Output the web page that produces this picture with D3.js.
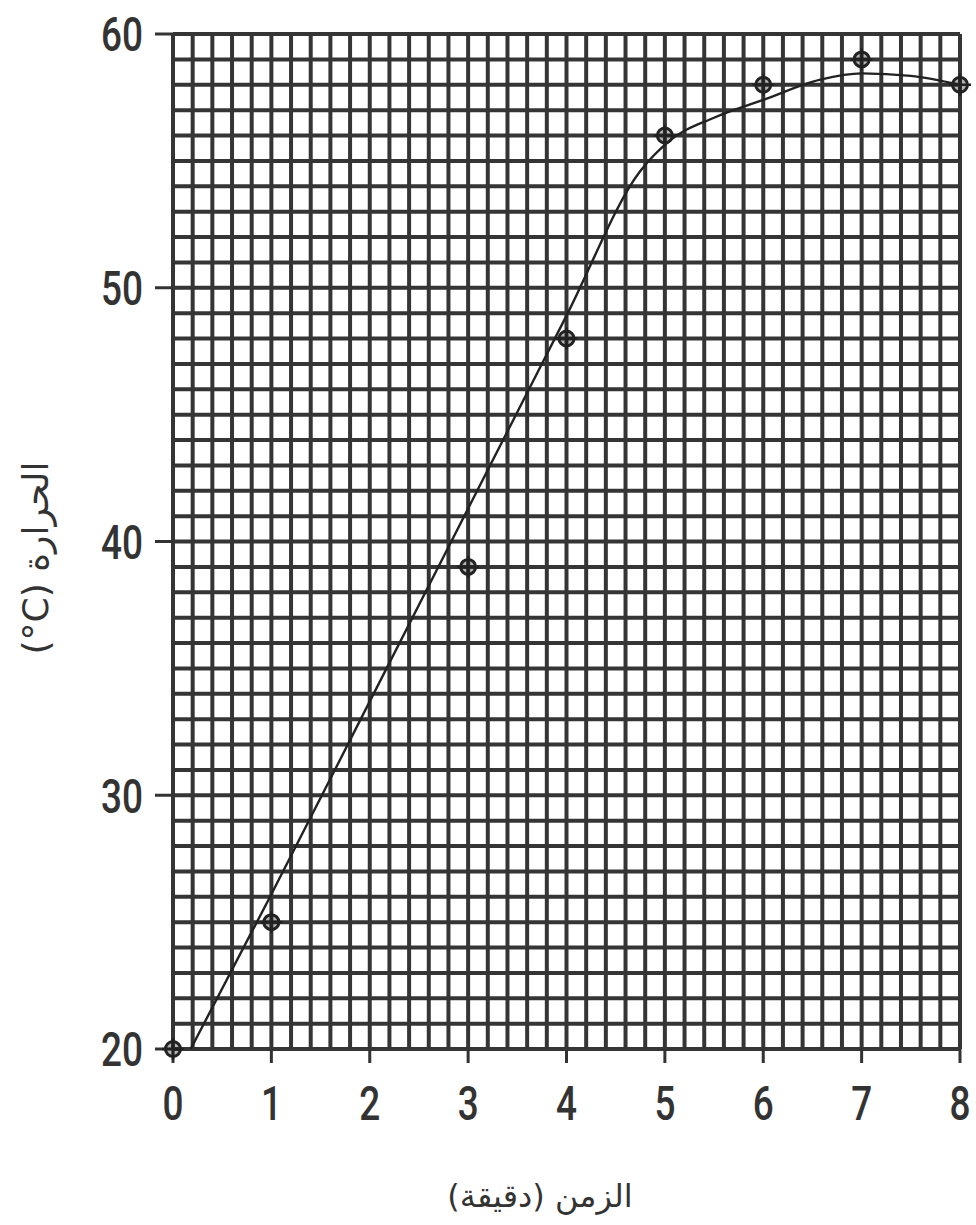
<!DOCTYPE html>
<html><head><meta charset="utf-8">
<script src="https://cdn.jsdelivr.net/npm/d3@7"></script>
<style>body{margin:0;background:#fff}</style>
</head><body>
<svg id="c" width="976" height="1225"></svg>
<script>
const timeMin = [0, 1, 3, 4, 5, 6, 7, 8];
const temperature = [20, 25, 39, 48, 56, 58, 59, 58];
const fitTime = [0.18, 1, 2, 3, 4, 4.75, 5.05, 5.5, 6, 6.58, 7, 7.5, 8];
const fitTemp = [20, 26.1, 33.7, 41.3, 48.9, 54.6, 55.8, 56.7, 57.4, 58.2, 58.45, 58.35, 58];
const xTicks = [0, 1, 2, 3, 4, 5, 6, 7, 8];
const yTicks = [20, 30, 40, 50, 60];
const xTitle = "الزمن (دقيقة)";
const yTitle = "الحرارة (C°)";

const svg = d3.select("#c");
const x = d3.scaleLinear().domain([0, 8]).range([173, 960]);
const y = d3.scaleLinear().domain([20, 60]).range([1049, 34]);

const grid = svg.append("g").attr("stroke", "#353535").attr("stroke-width", 4);
grid.selectAll("line.v").data(d3.range(0, 8.0001, 0.2)).join("line")
  .attr("x1", d => x(d)).attr("x2", d => x(d)).attr("y1", y(60)).attr("y2", y(20));
grid.selectAll("line.h").data(d3.range(20, 60.001, 1)).join("line")
  .attr("y1", d => y(d)).attr("y2", d => y(d)).attr("x1", x(0)).attr("x2", x(8));

const numFont = "Roboto,'Noto Sans',sans-serif";
// y ticks
svg.append("g").selectAll("line").data(yTicks).join("line")
  .attr("x1", x(0) - 18).attr("x2", x(0)).attr("y1", d => y(d)).attr("y2", d => y(d))
  .attr("stroke", "#333").attr("stroke-width", 3);
svg.append("g").selectAll("text").data(yTicks).join("text")
  .attr("x", 143).attr("y", d => y(d)).attr("dy", "0.36em").attr("text-anchor", "end")
  .attr("font-family", numFont).attr("font-weight", 500)
  .attr("font-size", 48).attr("fill", "#333")
  .attr("textLength", d => String(d).length * 21).attr("lengthAdjust", "spacingAndGlyphs")
  .text(d => d);

// x ticks
svg.append("g").selectAll("line").data(xTicks).join("line")
  .attr("x1", d => x(d)).attr("x2", d => x(d)).attr("y1", y(20)).attr("y2", y(20) + 14)
  .attr("stroke", "#333").attr("stroke-width", 3);
svg.append("g").selectAll("text").data(xTicks).join("text")
  .attr("x", d => x(d)).attr("y", 1120).attr("text-anchor", "middle")
  .attr("font-family", numFont).attr("font-weight", 500)
  .attr("font-size", 48).attr("fill", "#333")
  .attr("textLength", 21).attr("lengthAdjust", "spacingAndGlyphs")
  .text(d => d);

// fit curve
const fit = fitTime.map((t, i) => [t, fitTemp[i]]);
svg.append("path").datum(fit)
  .attr("d", d3.line().x(d => x(d[0])).y(d => y(d[1])).curve(d3.curveMonotoneX))
  .attr("fill", "none").attr("stroke", "#222").attr("stroke-width", 2.4);

// points
const pts = svg.append("g").selectAll("g").data(timeMin.map((t, i) => [t, temperature[i]])).join("g")
  .attr("transform", d => `translate(${x(d[0])},${y(d[1])})`);
pts.append("circle").attr("r", 7.5).attr("fill", "rgba(40,40,40,0.35)").attr("stroke", "#222").attr("stroke-width", 3);
pts.append("line").attr("x1", -11).attr("x2", 11).attr("stroke", "#222").attr("stroke-width", 2.5);
pts.append("line").attr("y1", -11).attr("y2", 11).attr("stroke", "#222").attr("stroke-width", 2.5);

// titles
svg.append("text").attr("x", 540).attr("y", 1207).attr("text-anchor", "middle")
  .attr("font-family", "'DejaVu Sans',sans-serif").attr("font-size", 32).attr("fill", "#333")
  .attr("direction", "rtl").text(xTitle);
svg.append("text").attr("transform", "translate(48,558) rotate(-90)").attr("text-anchor", "middle")
  .attr("font-family", "'DejaVu Sans',sans-serif").attr("font-size", 36).attr("fill", "#333")
  .attr("direction", "rtl").text(yTitle);
</script>
</body></html>
